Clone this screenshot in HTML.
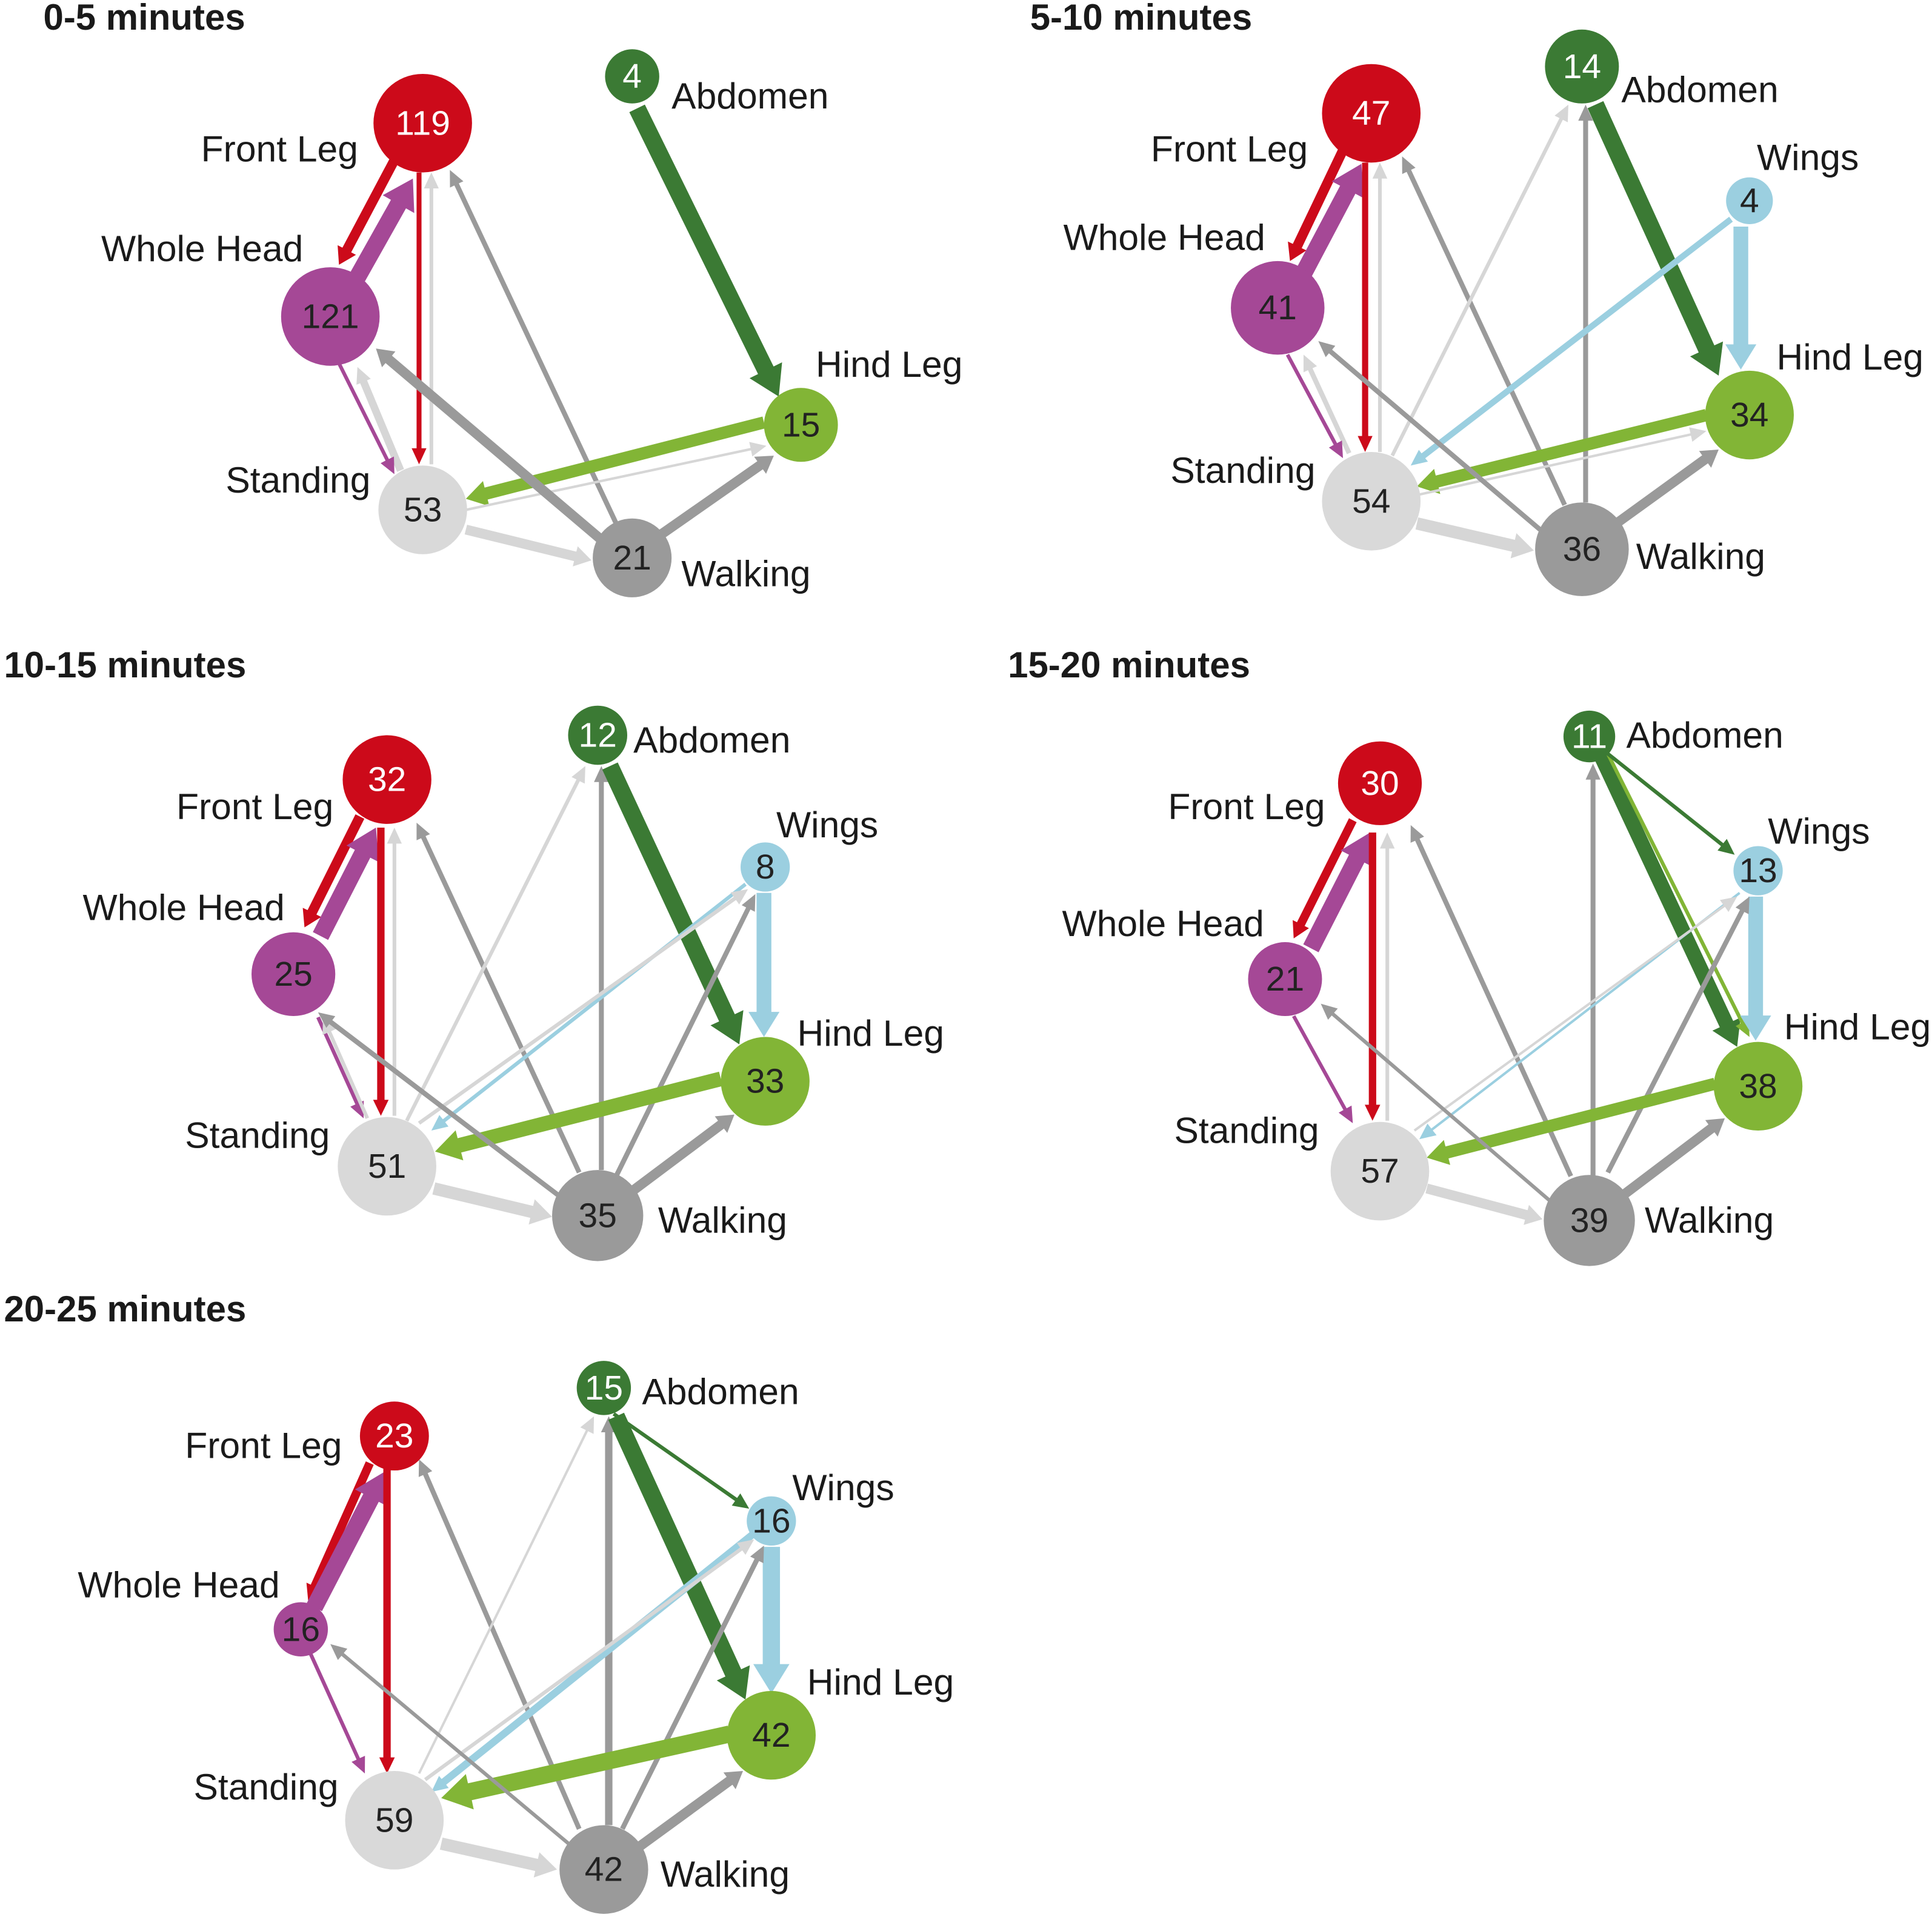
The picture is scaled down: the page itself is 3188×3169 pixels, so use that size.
<!DOCTYPE html>
<html><head><meta charset="utf-8"><style>
html,body{margin:0;padding:0;background:#fff}
svg{display:block}
text{font-family:"Liberation Sans",Arial,sans-serif}
.l{font-size:29.8px;fill:#1a1a1a}
.t{font-size:29.5px;font-weight:bold;fill:#1a1a1a}
.n{font-size:28px;text-anchor:middle;dominant-baseline:central}
</style></head><body>
<svg id="s" width="3188" height="3169" viewBox="0 0 1568 1559" xmlns="http://www.w3.org/2000/svg">
<g id="edges"></g>
<g id="nodes"></g>
<g>
<text class="t" x="35" y="24">0-5 minutes</text>
<text class="t" x="836" y="24">5-10 minutes</text>
<text class="t" x="3" y="550">10-15 minutes</text>
<text class="t" x="818" y="550">15-20 minutes</text>
<text class="t" x="3" y="1073">20-25 minutes</text>

<text class="l" x="163" y="131">Front Leg</text>
<text class="l" x="82" y="212">Whole Head</text>
<text class="l" x="545" y="88">Abdomen</text>
<text class="l" x="662" y="306">Hind Leg</text>
<text class="l" x="183" y="400">Standing</text>
<text class="l" x="553" y="476">Walking</text>

<text class="l" x="934" y="131">Front Leg</text>
<text class="l" x="863" y="203">Whole Head</text>
<text class="l" x="1316" y="83">Abdomen</text>
<text class="l" x="1426" y="138">Wings</text>
<text class="l" x="1442" y="300">Hind Leg</text>
<text class="l" x="950" y="392">Standing</text>
<text class="l" x="1328" y="462">Walking</text>

<text class="l" x="143" y="665">Front Leg</text>
<text class="l" x="67" y="747">Whole Head</text>
<text class="l" x="514" y="611">Abdomen</text>
<text class="l" x="630" y="680">Wings</text>
<text class="l" x="647" y="849">Hind Leg</text>
<text class="l" x="150" y="932">Standing</text>
<text class="l" x="534" y="1001">Walking</text>

<text class="l" x="948" y="665">Front Leg</text>
<text class="l" x="862" y="760">Whole Head</text>
<text class="l" x="1320" y="607">Abdomen</text>
<text class="l" x="1435" y="685">Wings</text>
<text class="l" x="1448" y="844">Hind Leg</text>
<text class="l" x="953" y="928">Standing</text>
<text class="l" x="1335" y="1001">Walking</text>

<text class="l" x="150" y="1184">Front Leg</text>
<text class="l" x="63" y="1297">Whole Head</text>
<text class="l" x="521" y="1140">Abdomen</text>
<text class="l" x="643" y="1218">Wings</text>
<text class="l" x="655" y="1376">Hind Leg</text>
<text class="l" x="157" y="1461">Standing</text>
<text class="l" x="536" y="1532">Walking</text>
</g>
<g id="nums"></g>
</svg>
<script>
var R="#cc0a1a",P="#a54896",DG="#3b7a34",LG="#82b536",B="#9bcfe0",LY="#d6d6d6",G="#9a9a9a";
var ns="http://www.w3.org/2000/svg";
function el(t,a,p){var e=document.createElementNS(ns,t);for(var k in a)e.setAttribute(k,a[k]);document.getElementById(p).appendChild(e);return e;}
function A(x1,y1,x2,y2,w,c){
 var dx=x2-x1,dy=y2-y1,L=Math.hypot(dx,dy),ux=dx/L,uy=dy/L,px=-uy,py=ux;
 var hl=Math.max(13,w*1.7),hw=Math.max(6,w*1.05);
 var bx=x2-ux*hl,by=y2-uy*hl,h=w/2;
 var pts=[[x1+px*h,y1+py*h],[bx+px*h,by+py*h],[bx+px*hw,by+py*hw],[x2,y2],[bx-px*hw,by-py*hw],[bx-px*h,by-py*h],[x1-px*h,y1-py*h]];
 el("polygon",{points:pts.map(function(p){return p[0].toFixed(1)+","+p[1].toFixed(1)}).join(" "),fill:c},"edges");
}
function N(x,y,r,c,t,tc){el("circle",{cx:x,cy:y,r:r,fill:c},"nodes");var e=el("text",{x:x,y:y,"class":"n",fill:tc||"#222"},"nums");e.textContent=t;}
// Panel 1
A(320,130,275,215,8,R);A(290,225,335,145,14,P);A(340,140,340,377,4,R);A(350,377,350,140,3,LY);
A(500,425,365,138,4,G);A(517,88,632,322,14,DG);A(620,343,378,405,10,LG);A(378,414,622,362,2,LY);
A(325,382,290,298,6,LY);A(275,295,320,385,3,P);A(490,440,305,283,8,G);A(378,430,480,455,8,LY);A(535,435,628,370,8,G);
N(343,100,40,R,"119","#fff");N(268,257,40,P,"121");N(513,62,22,DG,"4","#fff");N(650,345,30,LG,"15");N(343,414,36,"#d9d9d9","53");N(513,453,32,G,"21");
// Panel 2
A(1090,122,1047,212,8,R);A(1058,222,1105,133,14,P);A(1108,132,1108,367,5,R);A(1120,367,1120,132,3,LY);
A(1270,410,1138,127,4,G);A(1130,370,1273,85,3,LY);A(1287,408,1287,85,4,G);A(1295,85,1395,305,14,DG);
A(1413,184,1413,300,12,B);A(1405,178,1145,378,5,B);A(1385,337,1150,395,10,LG);A(1150,402,1385,350,2,LY);
A(1095,368,1058,288,4,LY);A(1045,288,1090,372,3,P);A(1250,430,1070,277,4,G);A(1150,425,1245,447,10,LY);A(1312,425,1395,365,8,G);
N(1113,92,40,R,"47","#fff");N(1037,250,38,P,"41");N(1284,54,30,DG,"14","#fff");N(1420,163,19,B,"4");N(1420,337,36,LG,"34");N(1113,407,40,"#d9d9d9","54");N(1284,446,38,G,"36");
// Panel 3
A(292,663,247,753,8,R);A(260,760,305,672,14,P);A(309,672,309,906,6,R);A(320,906,320,672,3,LY);
A(470,952,338,668,4,G);A(330,910,475,622,3,LY);A(488,950,488,622,4,G);A(495,622,600,848,14,DG);
A(620,725,620,842,12,B);A(605,718,350,918,3,B);A(340,912,607,722,3,LY);A(500,955,613,726,4,G);
A(585,876,353,935,12,LG);A(258,826,295,908,3,P);A(298,908,262,826,3,LY);A(455,972,258,822,4,G);A(352,965,448,988,10,LY);A(512,968,596,905,8,G);
N(314,633,36,R,"32","#fff");N(238,791,34,P,"25");N(485,597,24,DG,"12","#fff");N(621,704,20,B,"8");N(621,878,36,LG,"33");N(314,947,40,"#d9d9d9","51");N(485,987,37,G,"35");
// Panel 4
A(1098,666,1050,762,7,R);A(1064,770,1112,676,14,P);A(1114,676,1114,910,6,R);A(1126,910,1126,676,3,LY);
A(1275,955,1145,670,4,G);A(1293,955,1293,620,4,G);A(1300,615,1410,850,12,DG);A(1305,612,1420,842,3,LG);A(1305,612,1408,694,3,DG);
A(1425,728,1425,845,12,B);A(1412,725,1152,925,2,B);A(1148,918,1410,728,2,LY);A(1305,952,1420,728,4,G);
A(1392,880,1158,940,10,LG);A(1050,825,1098,912,3,P);A(1258,975,1072,815,3,G);A(1158,965,1252,990,8,LY);A(1318,970,1400,908,8,G);
N(1120,636,34,R,"30","#fff");N(1043,795,30,P,"21");N(1290,598,21,DG,"11","#fff");N(1427,707,20,B,"13");N(1427,882,36,LG,"38");N(1120,951,40,"#d9d9d9","57");N(1290,991,37,G,"39");
// Panel 5
A(300,1188,250,1300,7,R);A(255,1305,312,1195,14,P);A(314,1190,314,1440,6,R);
A(470,1485,340,1185,4,G);A(340,1440,482,1150,2,LY);A(494,1482,494,1150,6,G);A(498,1148,608,1225,3,DG);A(500,1150,605,1380,14,DG);
A(626,1256,626,1375,14,B);A(612,1245,350,1455,6,B);A(345,1445,612,1250,3,LY);A(505,1485,620,1255,4,G);
A(592,1408,358,1460,14,LG);A(252,1343,296,1440,3,P);A(465,1500,268,1335,3,G);A(358,1497,452,1518,10,LY);A(518,1500,603,1438,8,G);
N(320,1166,28,R,"23","#fff");N(244,1323,22,P,"16");N(490,1127,22,DG,"15","#fff");N(626,1235,20,B,"16");N(626,1409,36,LG,"42");N(320,1478,40,"#d9d9d9","59");N(490,1518,36,G,"42");
</script>
</body></html>
